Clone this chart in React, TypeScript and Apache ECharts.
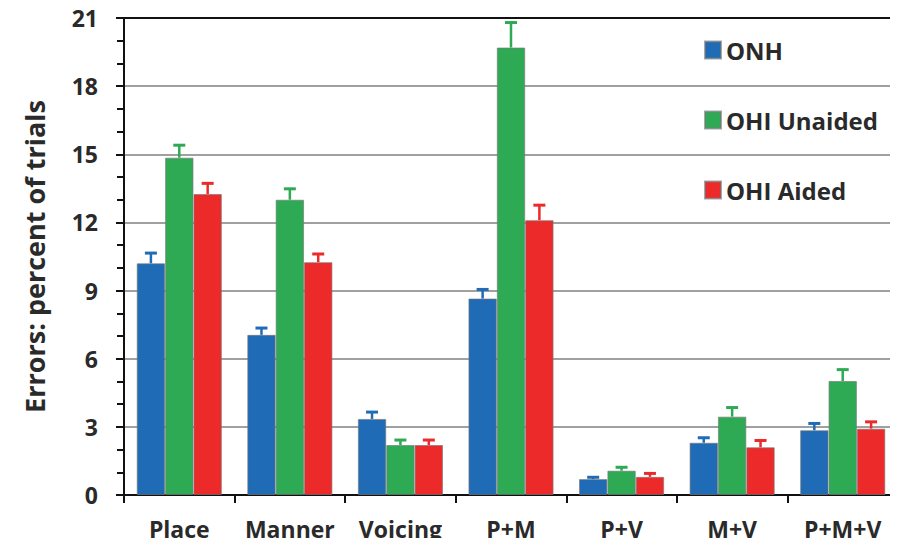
import React, { useEffect, useRef } from "react";
import * as echarts from "echarts";

const categories = ["Place", "Manner", "Voicing", "P+M", "P+V", "M+V", "P+M+V"];
const seriesNames = ["ONH", "OHI Unaided", "OHI Aided"];
const onhValues = [10.2, 7.05, 3.35, 8.65, 0.7, 2.3, 2.85];
const onhErrors = [0.45, 0.3, 0.3, 0.4, 0.08, 0.22, 0.3];
const unaidedValues = [14.85, 13.0, 2.2, 19.7, 1.07, 3.45, 5.02];
const unaidedErrors = [0.55, 0.48, 0.22, 1.1, 0.15, 0.4, 0.5];
const aidedValues = [13.25, 10.25, 2.2, 12.1, 0.8, 2.1, 2.92];
const aidedErrors = [0.47, 0.36, 0.22, 0.66, 0.15, 0.3, 0.3];
const yTicks = [0, 3, 6, 9, 12, 15, 18, 21];

const colors = ["#1f6bb6", "#2eaa55", "#ec2a2a"];
const FONT = "'Open Sans', 'Noto Sans', sans-serif";
const TEXT = "#2a2a2a";
const CAT_GAP = 0.23;

export default function App() {
  const ref = useRef<HTMLDivElement>(null);
  useEffect(() => {
    if (!ref.current) return;
    const chart = echarts.init(ref.current, undefined, { renderer: "svg" });
    const values = [onhValues, unaidedValues, aidedValues];
    const errors = [onhErrors, unaidedErrors, aidedErrors];

    const barSeries = values.map((vals, s) => ({
      type: "bar",
      name: seriesNames[s],
      data: vals,
      barGap: "0%",
      barCategoryGap: CAT_GAP * 100 + "%",
      itemStyle: { color: colors[s], borderColor: "rgba(120,120,120,0.65)", borderWidth: 1 },
      z: 2,
    }));

    const errSeries = values.map((vals, s) => ({
      type: "custom",
      name: seriesNames[s] + " err",
      data: vals.map((v, i) => [i, v, v + errors[s][i]]),
      encode: { x: 0, y: 2 },
      z: 3,
      renderItem: (params: any, api: any) => {
        const idx = api.value(0);
        const base = api.coord([idx, api.value(1)]);
        const top = api.coord([idx, api.value(2)]);
        const band = api.size([1, 0])[0];
        const barW = (band * (1 - CAT_GAP)) / 3;
        const x = base[0] + (s - 1) * barW;
        const cap = 6;
        const style = { stroke: colors[s], lineWidth: 2.5 };
        return {
          type: "group",
          children: [
            { type: "line", shape: { x1: x, y1: base[1], x2: x, y2: top[1] }, style },
            { type: "line", shape: { x1: x - cap, y1: top[1], x2: x + cap, y2: top[1] }, style: { stroke: colors[s], lineWidth: 3 } },
          ],
        };
      },
    }));

    chart.setOption({
      animation: false,
      textStyle: { fontFamily: FONT },
      grid: { left: 124, width: 777, top: 18, bottom: 51, containLabel: false },
      legend: {
        data: seriesNames,
        orient: "vertical",
        left: 699,
        top: 33,
        itemWidth: 16,
        itemHeight: 17,
        itemGap: 46,
        itemTextGap: 6,
        icon: "rect",
        textStyle: { fontFamily: FONT, fontSize: 24, fontWeight: "bold", color: TEXT, lineHeight: 22 },
      },
      xAxis: [
        {
          type: "category",
          data: categories,
          axisLine: { lineStyle: { color: "#111", width: 2 } },
          axisTick: { show: true, length: 8, lineStyle: { color: "#111", width: 2 } },
          axisLabel: { interval: 0, fontFamily: FONT, fontSize: 23, fontWeight: "bold", color: TEXT, margin: 22 },
        },
        {
          type: "category",
          data: categories,
          position: "top",
          axisLine: { lineStyle: { color: "#111", width: 2 } },
          axisTick: { show: false },
          axisLabel: { show: false },
        },
      ],
      yAxis: {
        type: "value",
        min: yTicks[0],
        max: yTicks[yTicks.length - 1],
        interval: 3,
        name: "Errors: percent of trials",
        nameLocation: "middle",
        nameGap: 76,
        nameTextStyle: { fontFamily: FONT, fontSize: 27, fontWeight: "bold", color: TEXT },
        axisLine: { show: true, lineStyle: { color: "#111", width: 2 } },
        axisTick: { show: true, length: 8, lineStyle: { color: "#111", width: 2 } },
        minorTick: { show: true, splitNumber: 3, length: 7, lineStyle: { color: "#111", width: 2 } },
        axisLabel: { fontFamily: FONT, fontSize: 23, fontWeight: "bold", color: TEXT, margin: 26 },
        splitLine: { show: true, lineStyle: { color: "#a0a0a0", width: 2 } },
      },
      series: [...barSeries, ...errSeries],
    });
    return () => chart.dispose();
  }, []);
  return <div ref={ref} style={{ width: 898, height: 546, margin: -8 }} />;
}
